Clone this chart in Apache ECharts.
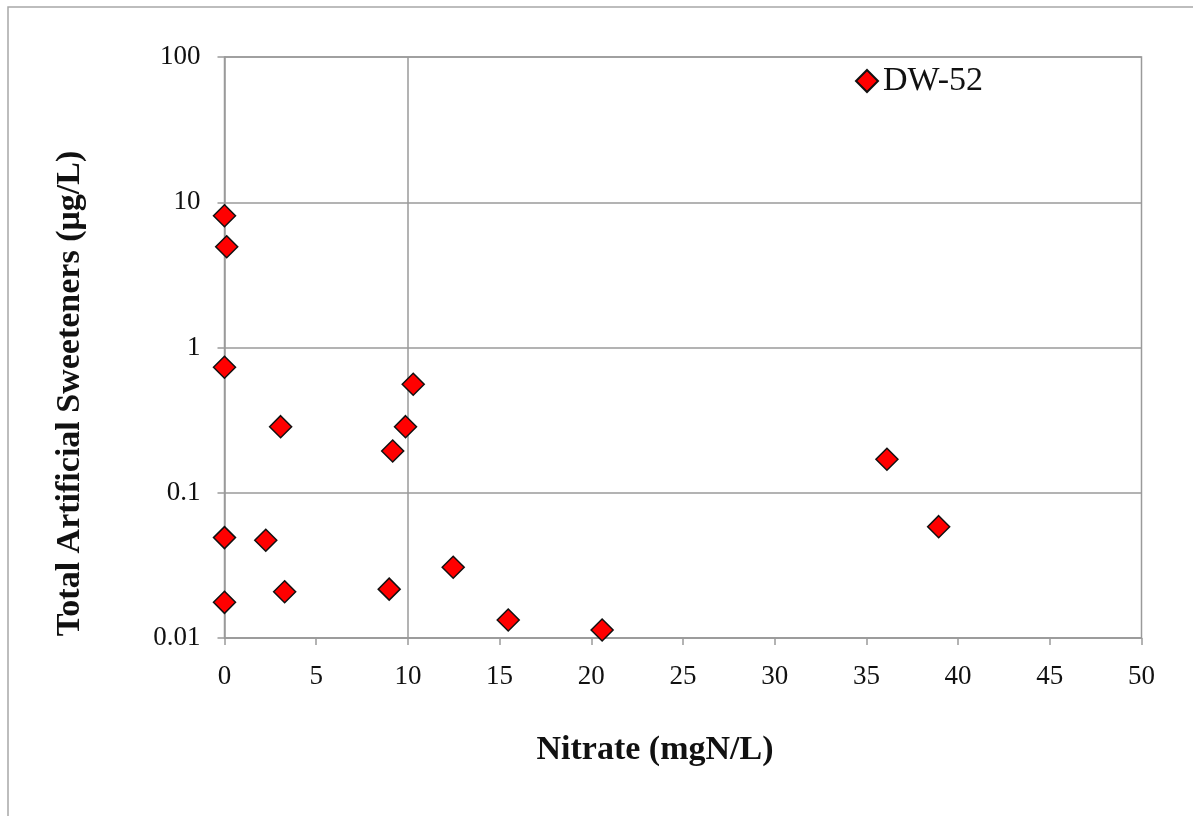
<!DOCTYPE html>
<html>
<head>
<meta charset="utf-8">
<script src="https://cdn.jsdelivr.net/npm/echarts@6/dist/echarts.min.js"></script>
<style>
html,body{margin:0;padding:0;background:#fff;}
#chart{width:1193px;height:816px;}
</style>
</head>
<body>
<div id="chart"></div>
<script>
var seriesName = 'DW-52';
var nitrate = [0, 0.12, 0, 3.06, 10.29, 9.87, 9.17, 0, 2.25, 0, 3.28, 8.98, 12.47, 15.47, 20.59, 36.12, 38.94];
var sweeteners = [8.08, 4.94, 0.731, 0.285, 0.558, 0.285, 0.194, 0.0491, 0.0471, 0.0176, 0.0208, 0.0217, 0.0307, 0.0133, 0.01135, 0.170, 0.0584];
var yTickValues = [0.01, 0.1, 1, 10, 100];
var yTickLabels = ['0.01', '0.1', '1', '10', '100'];
var xTitle = 'Nitrate (mgN/L)';
var yTitle = 'Total Artificial Sweeteners (\u03bcg/L)';
var xGridLineAt = [10];

var points = nitrate.map(function (x, i) { return [x, sweeteners[i]]; });
var font = '"Liberation Serif", "Times New Roman", serif';
var gray = '#9a9a9a';

var chart = echarts.init(document.getElementById('chart'));
chart.setOption({
  backgroundColor: '#fff',
  animation: false,
  graphic: [{
    type: 'rect',
    shape: { x: 8, y: 7, width: 1300, height: 900 },
    style: { fill: 'none', stroke: '#a8a8a8', lineWidth: 1.5 },
    silent: true
  }],
  grid: {
    left: 224.5, right: 51.5, top: 57, bottom: 178,
    show: true, borderColor: gray, borderWidth: 1.5, backgroundColor: 'transparent'
  },
  legend: {
    data: [seriesName],
    left: 850, top: 59,
    icon: 'diamond',
    itemWidth: 22, itemHeight: 22, itemGap: 6,
    textStyle: { fontFamily: font, fontSize: 34, color: '#111' }
  },
  xAxis: {
    type: 'value', min: 0, max: 50, interval: 5,
    name: xTitle, nameLocation: 'middle', nameGap: 95,
    nameTextStyle: { fontFamily: font, fontSize: 34, fontWeight: 'bold', color: '#111', padding: [0, 56, 0, 0] },
    axisLine: { show: true, lineStyle: { color: gray, width: 1.5 } },
    axisTick: { show: true, length: 7, inside: false, lineStyle: { color: gray, width: 1.5 } },
    axisLabel: { fontFamily: font, fontSize: 27, color: '#111', margin: 25 },
    splitLine: { show: false }
  },
  yAxis: {
    type: 'log', logBase: 10, min: 0.01, max: 100,
    name: yTitle, nameLocation: 'middle', nameGap: 137, nameRotate: 90,
    nameTextStyle: { fontFamily: font, fontSize: 34, fontWeight: 'bold', color: '#111', padding: [0, 92, 0, 0] },
    axisLine: { show: true, lineStyle: { color: gray, width: 1.5 } },
    axisTick: { show: true, length: 7, inside: false, lineStyle: { color: gray, width: 1.5 } },
    axisLabel: {
      fontFamily: font, fontSize: 27, color: '#111', margin: 24,
      formatter: function (v) {
        for (var i = 0; i < yTickValues.length; i++) {
          if (Math.abs(Math.log10(v) - Math.log10(yTickValues[i])) < 1e-6) return yTickLabels[i];
        }
        return '';
      }
    },
    splitLine: { show: true, lineStyle: { color: gray, width: 1.5 } }
  },
  series: [{
    name: seriesName,
    type: 'scatter',
    data: points,
    symbol: 'diamond',
    symbolSize: 22,
    itemStyle: { color: '#ff0000', borderColor: '#111', borderWidth: 1.5, opacity: 1 },
    markLine: {
      silent: true, symbol: 'none', label: { show: false },
      lineStyle: { color: gray, width: 1.5, type: 'solid' },
      data: xGridLineAt.map(function (v) { return { xAxis: v }; })
    },
    z: 5
  }]
});
</script>
</body>
</html>
